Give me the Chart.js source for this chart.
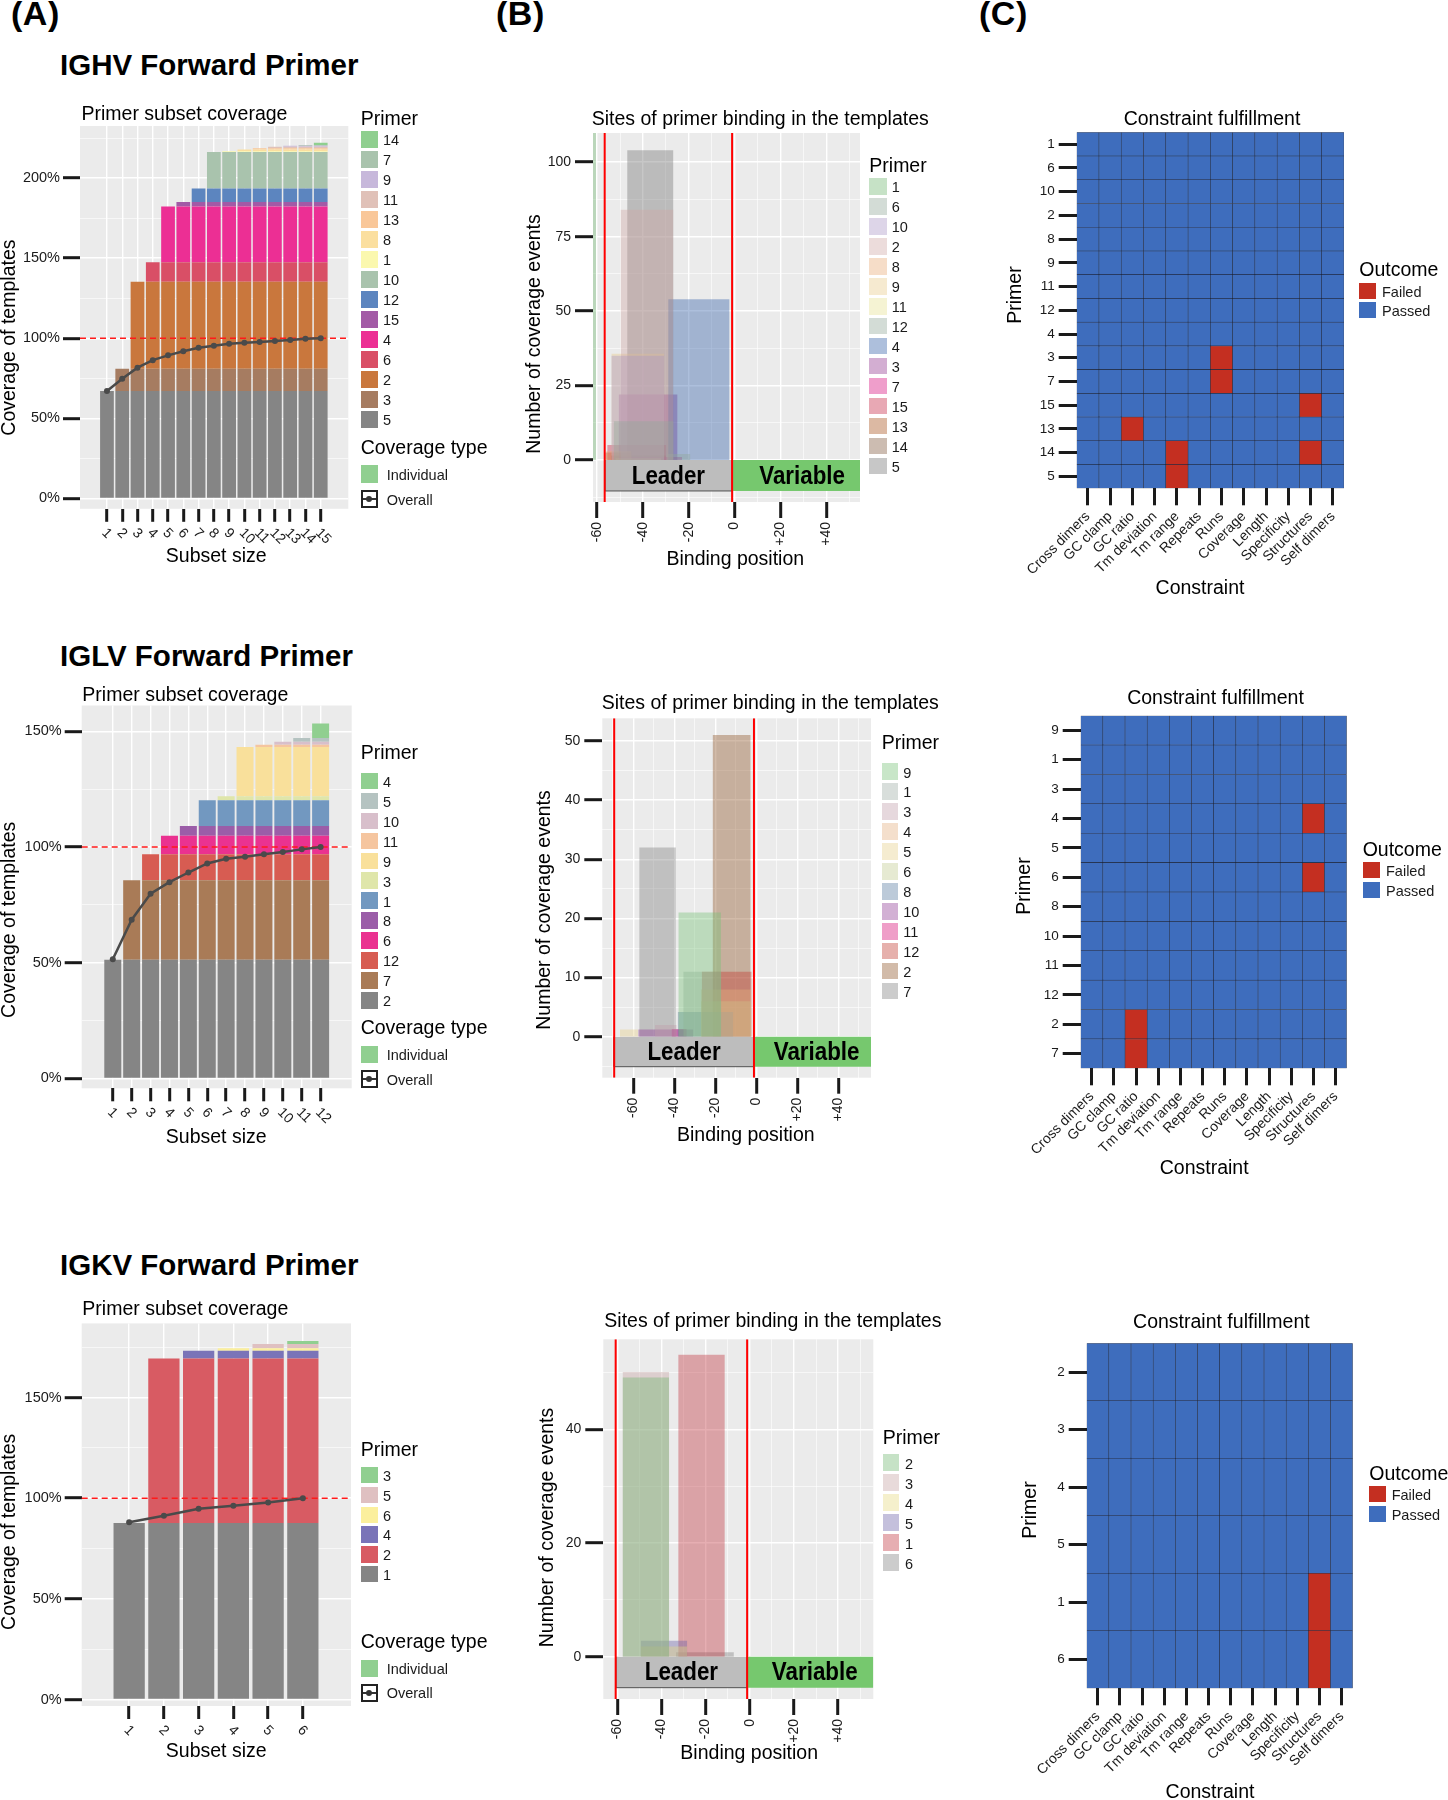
<!DOCTYPE html>
<html>
<head>
<meta charset="utf-8">
<title>Primer design evaluation</title>
<script src="https://cdn.jsdelivr.net/npm/chart.js@4.4.1/dist/chart.umd.min.js"></script>
<style>
  html, body { margin: 0; padding: 0; }
  body { position: relative; width: 1448px; height: 1800px; overflow: hidden; background: #fff;
         font-family: 'Liberation Sans', Arial, Helvetica, sans-serif; color: #000; }
  .txt { position: absolute; white-space: nowrap; line-height: 1; }
  .panel-tag { font-size: 34px; font-weight: bold; letter-spacing: 0.5px; }
  .fig-title { font-size: 29.5px; font-weight: bold; }
  .lg-title { font-size: 19.5px; }
  .lg-label { font-size: 14.5px; color: #1a1a1a; }
  .key { position: absolute; }
  canvas { position: absolute; }
</style>
</head>
<body>
<canvas id="a1"></canvas><canvas id="b1"></canvas><canvas id="c1"></canvas>
<canvas id="a2"></canvas><canvas id="b2"></canvas><canvas id="c2"></canvas>
<canvas id="a3"></canvas><canvas id="b3"></canvas><canvas id="c3"></canvas>
<script>
// ---------------------------------------------------------------------------
// Data (A): primer subset coverage, stack order bottom -> top
// ---------------------------------------------------------------------------
const ighvSizes = [1, 2, 3, 4, 5, 6, 7, 8, 9, 10, 11, 12, 13, 14, 15];
const ighvPrimers = ['5', '3', '2', '6', '4', '15', '12', '10', '1', '8', '13', '11', '9', '7', '14'];
const ighvAdds = [67, 14, 54.2, 12.3, 34.8, 2.7, 8.5, 22.7, 0.6, 1.1, 0.7, 0.9, 0.7, 0.5, 1.3];
const ighvColors = ['#858585', '#a67c61', '#c9773d', '#d94f66', '#ec2f94', '#a35aa6', '#5c85bf',
                    '#a9c3ad', '#fbf8ae', '#fbdf9f', '#f9c799', '#e0c1b8', '#c7b8db', '#a9c3ad', '#8fcf8f'];
const ighvOverall = [67, 74.7, 81.6, 86.3, 89.3, 91.9, 94.0, 95.3, 96.5, 97.2, 97.6, 98.3, 98.9, 99.6, 100];

const iglvSizes = [1, 2, 3, 4, 5, 6, 7, 8, 9, 10, 11, 12];
const iglvPrimers = ['2', '7', '12', '6', '8', '1', '3', '9', '11', '10', '5', '4'];
const iglvAdds = [51.3, 34.4, 11.2, 8.0, 4.2, 11.1, 1.8, 21.3, 0.9, 1.3, 1.7, 6.2];
const iglvColors = ['#858585', '#a97b57', '#d75c52', '#ea3290', '#9b5da8', '#7298c0',
                    '#dfe6aa', '#f9e09b', '#f5c59f', '#d8bfcb', '#b5c3c1', '#90cf90'];
const iglvOverall = [51.5, 68.6, 79.8, 84.8, 89.0, 92.9, 94.9, 95.8, 96.9, 97.9, 99.0, 100];

const igkvSizes = [1, 2, 3, 4, 5, 6];
const igkvPrimers = ['1', '2', '4', '6', '5', '3'];
const igkvAdds = [87.7, 81.7, 3.8, 1.3, 2.1, 1.4];
const igkvColors = ['#858585', '#d85b63', '#7a74b8', '#fbef9d', '#dfc0c1', '#90cf90'];
const igkvOverall = [88.0, 91.3, 94.7, 96.2, 97.9, 100];

// ---------------------------------------------------------------------------
// Data (B): binding sites, one bin per primer [start, end) and its count
// ---------------------------------------------------------------------------
const b1Primers = ['1', '6', '10', '2', '8', '9', '11', '12', '4', '3', '7', '15', '13', '14', '5'];
const b1Start = [-62.5, -52.8, -53.8, -49.8, -56, -53.8, -52, -29.5, -29.0, -50.6, -50.6, -55.6, -56.5, -54, -46.9];
const b1End   = [-60.5, -26.6, -30.7, -26.7, -45, -30.7, -32, -19.3, -2.2, -24.9, -22.9, -29.8, -45, -30, -26.7];
const b1Count = [140, 13, 35, 84, 3, 35.7, 0.6, 2, 54, 22, 1, 5, 2.5, 1.5, 104];
const b1Rgb = [[112,182,112],[145,167,152],[170,150,197],[207,167,165],[232,170,117],[232,202,137],[230,225,145],
               [145,167,152],[50,95,167],[145,52,142],[215,12,125],[197,37,67],[167,80,25],[127,87,60],[116,116,116]];

const b2Primers = ['9', '1', '3', '4', '5', '6', '8', '10', '11', '12', '2', '7'];
const b2Start = [-38, -35.6, -49.4, -27, -66.5, -27, -38.3, -57.6, -41.3, -26.6, -21.3, -57.1];
const b2End   = [-17.2, -17, -38.8, -2.5, -57.6, -2.5, -11.2, -30.7, -33.9, -2.2, -2.7, -39.2];
const b2Count = [21, 11, 2, 8, 1.2, 6, 4.2, 1.2, 1.3, 11, 51, 32];
const b2Rgb = [[117,192,117],[157,172,165],[192,157,170],[227,175,127],[230,207,137],[192,202,142],
               [87,122,160],[142,57,147],[215,12,117],[192,57,47],[142,85,40],[128,128,128]];

const b3Primers = ['2', '3', '4', '5', '1', '6'];
const b3Start = [-57.6, -57.6, -49.4, -49.4, -32.4, -33.4];
const b3End   = [-36.5, -36.5, -28.3, -28.3, -11.3, -7.2];
const b3Count = [49.1, 50.1, 1.8, 2.8, 53.1, 0.8];
const b3Rgb = [[112,182,112],[197,162,162],[230,217,127],[107,97,167],[192,52,62],[128,128,128]];

// template regions (binding position)
const b1Regions = [['Leader', -56.7, -1.1], ['Variable', -1.1, 60]];
const b2Regions = [['Leader', -69.3, -1.1], ['Variable', -1.1, 60]];
const b3Regions = [['Leader', -60.7, -1.2], ['Variable', -1.2, 60]];

// ---------------------------------------------------------------------------
// Data (C): constraint fulfillment
// ---------------------------------------------------------------------------
const constraints = ['Cross dimers', 'GC clamp', 'GC ratio', 'Tm deviation', 'Tm range', 'Repeats',
                     'Runs', 'Coverage', 'Length', 'Specificity', 'Structures', 'Self dimers'];
const c1Rows = ['1', '6', '10', '2', '8', '9', '11', '12', '4', '3', '7', '15', '13', '14', '5'];
const c1Failed = { 'Runs': ['3', '7'], 'Structures': ['15', '14'], 'GC ratio': ['13'], 'Tm range': ['14', '5'] };
const c2Rows = ['9', '1', '3', '4', '5', '6', '8', '10', '11', '12', '2', '7'];
const c2Failed = { 'Structures': ['4', '6'], 'GC ratio': ['2', '7'] };
const c3Rows = ['2', '3', '4', '5', '1', '6'];
const c3Failed = { 'Structures': ['1', '6'] };

// ---------------------------------------------------------------------------
// Layout (page pixels): panel rectangles, title and axis-title anchors
// ---------------------------------------------------------------------------
const GEOM = {
  a1: { l: 80, r: 348.3, t: 126, b: 508.8, titleX: 81.5, titleY: 115, yTitleX: 9.5, yTitleY: 337.6, xTitleX: 216.2, xTitleY: 557,
        xmin: -0.18, xmax: 16.22, ymin: -6.5, ymax: 232.5 },
  a2: { l: 81.7, r: 351.7, t: 705.5, b: 1088.3, titleX: 82.3, titleY: 695.2, yTitleX: 9.5, yTitleY: 919.8, xTitleX: 216.2, xTitleY: 1137.5,
        xmin: -0.05, xmax: 13.05, ymin: -4.3, ymax: 161.2 },
  a3: { l: 81.7, r: 351, t: 1323.4, b: 1706, titleX: 82.3, titleY: 1309.6, yTitleX: 9.5, yTitleY: 1531.8, xTitleX: 216.2, xTitleY: 1751.8,
        xmin: 0.28, xmax: 6.74, ymin: -3.2, ymax: 186.8 },
  b1: { l: 593, r: 860, t: 133, b: 502, titleX: 591.7, titleY: 119.5, yTitleX: 535, yTitleY: 334, xTitleX: 735.3, xTitleY: 560,
        xmin: -61.8, xmax: 54.7, ymin: -14.1, ymax: 109.8, depth: -10.4 },
  b2: { l: 602.3, r: 871, t: 718.3, b: 1077.7, titleX: 601.7, titleY: 703.3, yTitleX: 545, yTitleY: 910, xTitleX: 745.8, xTitleY: 1135.7,
        xmin: -75.1, xmax: 56.0, ymin: -6.93, ymax: 53.84, depth: -5.07 },
  b3: { l: 603.3, r: 873.3, t: 1339.3, b: 1699, titleX: 604.3, titleY: 1321.7, yTitleX: 547.3, yTitleY: 1527.5, xTitleX: 749.2, xTitleY: 1754,
        xmin: -66.3, xmax: 55.9, ymin: -7.44, ymax: 55.83, depth: -5.45 },
  c1: { l: 1076.7, r: 1344, t: 132.3, b: 488.3, titleX: 1212, titleY: 119.3, yTitleX: 1015.7, yTitleY: 295, xTitleX: 1200, xTitleY: 589 },
  c2: { l: 1080.7, r: 1346.7, t: 715.7, b: 1068.3, titleX: 1215.5, titleY: 698.8, yTitleX: 1025, yTitleY: 886, xTitleX: 1204.2, xTitleY: 1168.3 },
  c3: { l: 1086.7, r: 1352.7, t: 1343.3, b: 1688.3, titleX: 1221.4, titleY: 1323, yTitleX: 1030.7, yTitleY: 1510, xTitleX: 1210, xTitleY: 1792.3 }
};

const FONT = "'Liberation Sans', Arial, Helvetica, sans-serif";
Chart.defaults.font.family = FONT;
Chart.defaults.color = '#1a1a1a';
const PASS = '#3e6dbd', FAIL = '#c42f21';
const rgba = (c, a) => `rgba(${c[0]},${c[1]},${c[2]},${a})`;

// fills the plotting panel with ggplot grey
const panelBg = {
  id: 'panelBg',
  beforeDraw(chart) {
    const a = chart.chartArea, ctx = chart.ctx;
    ctx.save();
    ctx.fillStyle = '#ebebeb';
    ctx.fillRect(a.left, a.top, a.right - a.left, a.bottom - a.top);
    ctx.restore();
  }
};

// plot title and axis titles, anchored like the ggplot figure
const panelText = {
  id: 'panelText',
  afterDraw(chart, args, o) {
    const ctx = chart.ctx, g = o.g;
    ctx.save();
    ctx.fillStyle = '#000'; ctx.textBaseline = 'middle';
    ctx.font = `19.5px ${FONT}`;
    ctx.textAlign = o.align;
    ctx.fillText(o.title, g.titleX - o.ox, g.titleY - o.oy);
    ctx.textAlign = 'center';
    ctx.fillText(o.xTitle, g.xTitleX - o.ox, g.xTitleY - o.oy);
    ctx.translate(g.yTitleX - o.ox, g.yTitleY - o.oy);
    ctx.rotate(-Math.PI / 2);
    ctx.fillText(o.yTitle, 0, 0);
    ctx.restore();
  }
};

// subset-size labels slanted downwards to the right
const slantLabels = {
  id: 'slantLabels',
  afterDraw(chart, args, o) {
    const s = chart.scales.x, ctx = chart.ctx;
    ctx.save();
    ctx.fillStyle = '#1a1a1a'; ctx.font = `${o.size}px ${FONT}`;
    ctx.textAlign = 'left'; ctx.textBaseline = 'middle';
    s.ticks.forEach((t, i) => {
      ctx.save();
      ctx.translate(s.getPixelForTick(i) + o.dx, s.top + o.dy);
      ctx.rotate(o.angle * Math.PI / 180);
      ctx.fillText(String(t.value), 0, 0);
      ctx.restore();
    });
    ctx.restore();
  }
};

// dashed 100% line, drawn just before the "Overall" line
const refLine = {
  id: 'refLine',
  beforeDatasetDraw(chart, args, opts) {
    if (args.index !== opts.beforeIndex) return;
    const y = chart.scales.y.getPixelForValue(opts.value), a = chart.chartArea, ctx = chart.ctx;
    ctx.save();
    ctx.strokeStyle = '#ff1a1a'; ctx.lineWidth = 1.6; ctx.setLineDash([6, 4]);
    ctx.beginPath(); ctx.moveTo(a.left, y); ctx.lineTo(a.right, y); ctx.stroke();
    ctx.restore();
  }
};

// region names and red boundary lines for the binding-site charts
const regionMarks = {
  id: 'regionMarks',
  afterDatasetsDraw(chart, args, opts) {
    const { ctx, chartArea: a, scales: { x, y } } = chart;
    ctx.save();
    ctx.beginPath(); ctx.rect(a.left, a.top, a.right - a.left, a.bottom - a.top); ctx.clip();
    ctx.fillStyle = '#000'; ctx.textAlign = 'center'; ctx.textBaseline = 'middle';
    ctx.font = `bold 26px ${FONT}`;
    const cy = y.getPixelForValue(opts.depth / 2);
    opts.regions.forEach(([name, from, to]) => {
      ctx.save();
      ctx.translate(x.getPixelForValue((from + to) / 2), cy + 1);
      ctx.scale(0.86, 1);
      ctx.fillText(name, 0, 0);
      ctx.restore();
    });
    ctx.strokeStyle = '#ff0000'; ctx.lineWidth = 2;
    opts.lines.forEach(v => {
      const px = x.getPixelForValue(v);
      ctx.beginPath(); ctx.moveTo(px, a.top); ctx.lineTo(px, a.bottom); ctx.stroke();
    });
    ctx.restore();
  }
};

// canvas placement so that the chart area lands on the panel rectangle;
// the canvas reaches 90px past the panel so wide titles are not cut
function frame(id, g) {
  const cl = Math.floor(g.yTitleX - 9.75), ct = Math.floor(g.titleY - 9.75);
  const cr = Math.ceil(g.r + 90), cb = Math.ceil(g.xTitleY + 9.75);
  const cv = document.getElementById(id);
  cv.width = cr - cl; cv.height = cb - ct;
  Object.assign(cv.style, { left: cl + 'px', top: ct + 'px', width: (cr - cl) + 'px', height: (cb - ct) + 'px' });
  return { cv, ox: cl, oy: ct, yw: g.l - cl, xh: cb - g.b, pad: { top: g.t - ct, right: cr - g.r, left: 0, bottom: 0 } };
}

function baseOptions(F, g, title, align, xTitle, yTitle) {
  return {
    responsive: false, animation: false, events: [],
    layout: { padding: F.pad, autoPadding: false },
    plugins: {
      legend: { display: false }, tooltip: { enabled: false },
      panelText: { g, ox: F.ox, oy: F.oy, title, align, xTitle, yTitle }
    }
  };
}

// explicit tick list: labelled majors plus unlabelled minors
function numericAxis(F, horiz, g, major, minor, fmt, o) {
  const majorSet = new Set(major);
  const all = major.concat(minor);
  return {
    type: 'linear',
    min: horiz ? g.xmin : g.ymin, max: horiz ? g.xmax : g.ymax,
    stacked: o.stacked || false,
    afterBuildTicks: s => { s.ticks = all.map(v => ({ value: v })); },
    afterFit: s => {
      if (horiz) { s.height = F.xh; s.paddingLeft = 0; s.paddingRight = 0; }
      else { s.width = F.yw; s.paddingTop = 0; s.paddingBottom = 0; }
    },
    ticks: { display: o.showTicks !== false, autoSkip: false, padding: o.pad, font: { size: o.size }, color: '#1a1a1a',
             minRotation: o.rot || 0, maxRotation: o.rot || 0,
             callback: v => majorSet.has(v) ? fmt(v) : '' },
    grid: {
      color: '#ffffff', offset: false,
      lineWidth: c => (c.tick && majorSet.has(c.tick.value)) ? 1.4 : 0.6,
      tickColor: c => (c.tick && majorSet.has(c.tick.value)) ? '#1a1a1a' : 'rgba(0,0,0,0)',
      tickWidth: 3, tickLength: o.tl
    },
    border: { display: false },
    title: { display: false }
  };
}

// ---------------------------------------------------------------------------
// (A) Primer subset coverage
// ---------------------------------------------------------------------------
function coverageChart(id, g, sizes, primers, adds, colors, overall, yMajor, yMinor) {
  const F = frame(id, g);
  const bars = primers.map((p, i) => ({
    type: 'bar', label: p, stack: 'cov', order: 1,
    data: sizes.filter(k => k > i).map(k => ({ x: k, y: adds[i] })),
    backgroundColor: colors[i], borderWidth: 0,
    categoryPercentage: 0.9, barPercentage: 1
  }));
  const line = {
    type: 'line', label: 'Overall', stack: 'overall', order: 0,
    data: overall.map((v, i) => ({ x: sizes[i], y: v })),
    borderColor: '#4a4a4a', borderWidth: 2.5, pointRadius: 3,
    pointBackgroundColor: '#4a4a4a', pointBorderWidth: 0, tension: 0
  };
  const opts = baseOptions(F, g, 'Primer subset coverage', 'left', 'Subset size', 'Coverage of templates');
  opts.plugins.refLine = { value: 100, beforeIndex: bars.length };
  opts.plugins.slantLabels = { size: 14, angle: 45, dx: -3, dy: 22 };
  opts.scales = {
    x: numericAxis(F, true, g, sizes, [], v => String(v),
                   { size: 14, pad: 3, tl: 13, showTicks: false, stacked: true }),
    y: numericAxis(F, false, g, yMajor, yMinor, v => v + '%',
                   { size: 14.5, pad: 3, tl: 17, stacked: true })
  };
  new Chart(F.cv, { type: 'bar', data: { datasets: bars.concat([line]) }, options: opts,
                    plugins: [panelBg, refLine, slantLabels, panelText] });
}

// ---------------------------------------------------------------------------
// (B) Sites of primer binding
// ---------------------------------------------------------------------------
function bindingChart(id, g, primers, starts, ends, counts, rgb, regions, yMajor, yMinor) {
  const F = frame(id, g);
  const rect = (s, e, top, bottom) => [{ x: s, y: bottom }, { x: s, y: top }, { x: e, y: top }, { x: e, y: bottom }];
  const bins = primers.map((p, i) => ({
    label: p, data: rect(starts[i], ends[i], counts[i], 0),
    showLine: true, fill: 'origin', borderWidth: 0, pointRadius: 0,
    backgroundColor: rgba(rgb[i], 0.4), borderColor: 'rgba(0,0,0,0)'
  }));
  const boxes = regions.map(([name, from, to]) => ({
    label: name, data: rect(from, to, g.depth, 0),
    showLine: true, fill: 'origin', pointRadius: 0,
    backgroundColor: name === 'Leader' ? '#bdbdbd' : '#76c86e',
    borderColor: name === 'Leader' ? 'rgba(60,60,60,0.85)' : 'rgba(0,0,0,0)', borderWidth: 1
  }));
  const opts = baseOptions(F, g, 'Sites of primer binding in the templates', 'left', 'Binding position', 'Number of coverage events');
  opts.plugins.regionMarks = { regions, depth: g.depth, lines: [regions[0][1], regions[0][2]] };
  const xMajor = [-60, -40, -20, 0, 20, 40];
  const xMinor = [-70, -50, -30, -10, 10, 30, 50].filter(v => v > g.xmin && v < g.xmax);
  opts.scales = {
    x: numericAxis(F, true, g, xMajor, xMinor, v => (v > 0 ? '+' : '') + v,
                   { size: 14, pad: 4, tl: 16, rot: 90 }),
    y: numericAxis(F, false, g, yMajor, yMinor, v => String(v),
                   { size: 14, pad: 4, tl: 18 })
  };
  new Chart(F.cv, { type: 'scatter', data: { datasets: boxes.concat(bins) }, options: opts,
                    plugins: [panelBg, regionMarks, panelText] });
}

// ---------------------------------------------------------------------------
// (C) Constraint fulfillment tiles
// ---------------------------------------------------------------------------
function fulfillmentChart(id, g, rows, failed) {
  const F = frame(id, g);
  const bottomUp = rows.slice().reverse();
  const datasets = bottomUp.map(r => ({
    label: r, stack: 'tiles',
    data: constraints.map(() => 1),
    backgroundColor: constraints.map(c => (failed[c] || []).includes(r) ? FAIL : PASS),
    borderColor: 'rgba(15,25,50,0.8)', borderWidth: 0.6, borderSkipped: false,
    barPercentage: 1, categoryPercentage: 1
  }));
  const opts = baseOptions(F, g, 'Constraint fulfillment', 'center', 'Constraint', 'Primer');
  opts.scales = {
    x: {
      type: 'category', stacked: true,
      afterFit: s => { s.height = F.xh; s.paddingLeft = 0; s.paddingRight = 0; },
      ticks: { autoSkip: false, padding: 3, font: { size: 14 }, color: '#1a1a1a', minRotation: 45, maxRotation: 45 },
      grid: { color: 'rgba(0,0,0,0)', offset: false, tickColor: '#1a1a1a', tickWidth: 3, tickLength: 17 },
      border: { display: false }
    },
    y: {
      type: 'linear', stacked: true, min: 0, max: rows.length,
      afterBuildTicks: s => { s.ticks = bottomUp.map((r, i) => ({ value: i + 0.5 })); },
      afterFit: s => { s.width = F.yw; s.paddingTop = 0; s.paddingBottom = 0; },
      ticks: { autoSkip: false, padding: 4, font: { size: 13.5 }, color: '#1a1a1a',
               callback: v => bottomUp[Math.round(v - 0.5)] },
      grid: { color: 'rgba(0,0,0,0)', tickColor: '#1a1a1a', tickWidth: 3, tickLength: 18 },
      border: { display: false }
    }
  };
  new Chart(F.cv, { type: 'bar', data: { labels: constraints, datasets }, options: opts, plugins: [panelBg, panelText] });
}

// ---------------------------------------------------------------------------
// HTML text and legends
// ---------------------------------------------------------------------------
function addText(txt, x, y, cls) {
  const d = document.createElement('div');
  d.className = 'txt ' + cls; d.textContent = txt;
  d.style.left = x + 'px'; d.style.top = y + 'px';
  document.body.appendChild(d);
  return d;
}
function addBox(x, y, w, h, style, parent) {
  const k = document.createElement('div');
  k.className = 'key';
  Object.assign(k.style, { left: x + 'px', top: y + 'px', width: w + 'px', height: h + 'px' }, style);
  (parent || document.body).appendChild(k);
  return k;
}
function legend(L) {
  addText(L.title, L.x, L.titleY - 0.49 * 19.5, 'lg-title');
  L.labels.forEach((lab, i) => {
    const y = L.top + i * L.step;
    addBox(L.x, y, L.keyW, L.keyH, { background: L.colors[i] });
    addText(lab, L.labelX, y + L.keyH / 2 - 0.49 * 14.5 + 1, 'lg-label');
  });
}
function coverageTypeLegend(x, titleY, indTop, ovTop) {
  addText('Coverage type', x, titleY - 0.49 * 19.5, 'lg-title');
  addBox(x, indTop, 17.3, 17.3, { background: '#90cf90' });
  addText('Individual', x + 26, indTop + 8.6 - 0.49 * 14.5 + 1, 'lg-label');
  const k = addBox(x, ovTop, 13.5, 13.5, { border: '2px solid #222', background: '#fff' });
  addBox(0, 5.75, 13.5, 2, { background: '#333' }, k);
  addBox(3.75, 3.75, 6, 6, { background: '#333', borderRadius: '50%' }, k);
  addText('Overall', x + 26, ovTop + 8.6 - 0.49 * 14.5 + 1, 'lg-label');
}

// headers
addText('(A)', 11, -4, 'panel-tag');
addText('(B)', 496, -4, 'panel-tag');
addText('(C)', 979, -4, 'panel-tag');
addText('IGHV Forward Primer', 60, 50.4, 'fig-title');
addText('IGLV Forward Primer', 60, 640.5, 'fig-title');
addText('IGKV Forward Primer', 60, 1249.6, 'fig-title');

// charts
coverageChart('a1', GEOM.a1, ighvSizes, ighvPrimers, ighvAdds, ighvColors, ighvOverall, [0, 50, 100, 150, 200], [25, 75, 125, 175, 225]);
coverageChart('a2', GEOM.a2, iglvSizes, iglvPrimers, iglvAdds, iglvColors, iglvOverall, [0, 50, 100, 150], [25, 75, 125]);
coverageChart('a3', GEOM.a3, igkvSizes, igkvPrimers, igkvAdds, igkvColors, igkvOverall, [0, 50, 100, 150], [25, 75, 125, 175]);

bindingChart('b1', GEOM.b1, b1Primers, b1Start, b1End, b1Count, b1Rgb, b1Regions, [0, 25, 50, 75, 100], [-12.5, 12.5, 37.5, 62.5, 87.5]);
bindingChart('b2', GEOM.b2, b2Primers, b2Start, b2End, b2Count, b2Rgb, b2Regions, [0, 10, 20, 30, 40, 50], [-5, 5, 15, 25, 35, 45]);
bindingChart('b3', GEOM.b3, b3Primers, b3Start, b3End, b3Count, b3Rgb, b3Regions, [0, 20, 40], [10, 30, 50]);

fulfillmentChart('c1', GEOM.c1, c1Rows, c1Failed);
fulfillmentChart('c2', GEOM.c2, c2Rows, c2Failed);
fulfillmentChart('c3', GEOM.c3, c3Rows, c3Failed);

// legends (A)
const rev = a => a.slice().reverse();
legend({ title: 'Primer', x: 360.7, titleY: 118.7, top: 130.7, step: 20.0, keyW: 17.3, keyH: 17.4, labelX: 383,
         labels: rev(ighvPrimers), colors: rev(ighvColors) });
coverageTypeLegend(360.7, 447.5, 465.4, 490.3);
legend({ title: 'Primer', x: 360.7, titleY: 753, top: 772.7, step: 19.95, keyW: 17.3, keyH: 16.5, labelX: 383,
         labels: rev(iglvPrimers), colors: rev(iglvColors) });
coverageTypeLegend(360.7, 1028, 1045.6, 1070.4);
legend({ title: 'Primer', x: 360.7, titleY: 1449.7, top: 1466.9, step: 19.8, keyW: 17.3, keyH: 16.5, labelX: 383,
         labels: rev(igkvPrimers), colors: rev(igkvColors) });
coverageTypeLegend(360.7, 1641.7, 1659.9, 1684);

// legends (B)
legend({ title: 'Primer', x: 869.3, titleY: 166, top: 178.3, step: 19.95, keyW: 17.4, keyH: 16.5, labelX: 891.7,
         labels: b1Primers, colors: b1Rgb.map(c => rgba(c, 0.4)) });
legend({ title: 'Primer', x: 881.7, titleY: 742.3, top: 763.3, step: 19.94, keyW: 16.7, keyH: 16.7, labelX: 903.3,
         labels: b2Primers, colors: b2Rgb.map(c => rgba(c, 0.4)) });
legend({ title: 'Primer', x: 882.7, titleY: 1437.7, top: 1454.3, step: 20, keyW: 16.7, keyH: 16.7, labelX: 905,
         labels: b3Primers, colors: b3Rgb.map(c => rgba(c, 0.4)) });

// legends (C)
legend({ title: 'Outcome', x: 1359.3, titleY: 270, top: 282.7, step: 19.6, keyW: 17, keyH: 16, labelX: 1382,
         labels: ['Failed', 'Passed'], colors: [FAIL, PASS] });
legend({ title: 'Outcome', x: 1362.7, titleY: 849.3, top: 861.7, step: 20, keyW: 17, keyH: 16.6, labelX: 1386,
         labels: ['Failed', 'Passed'], colors: [FAIL, PASS] });
legend({ title: 'Outcome', x: 1369.3, titleY: 1473.3, top: 1485.7, step: 20, keyW: 17, keyH: 16.6, labelX: 1391.7,
         labels: ['Failed', 'Passed'], colors: [FAIL, PASS] });
</script>
</body>
</html>
